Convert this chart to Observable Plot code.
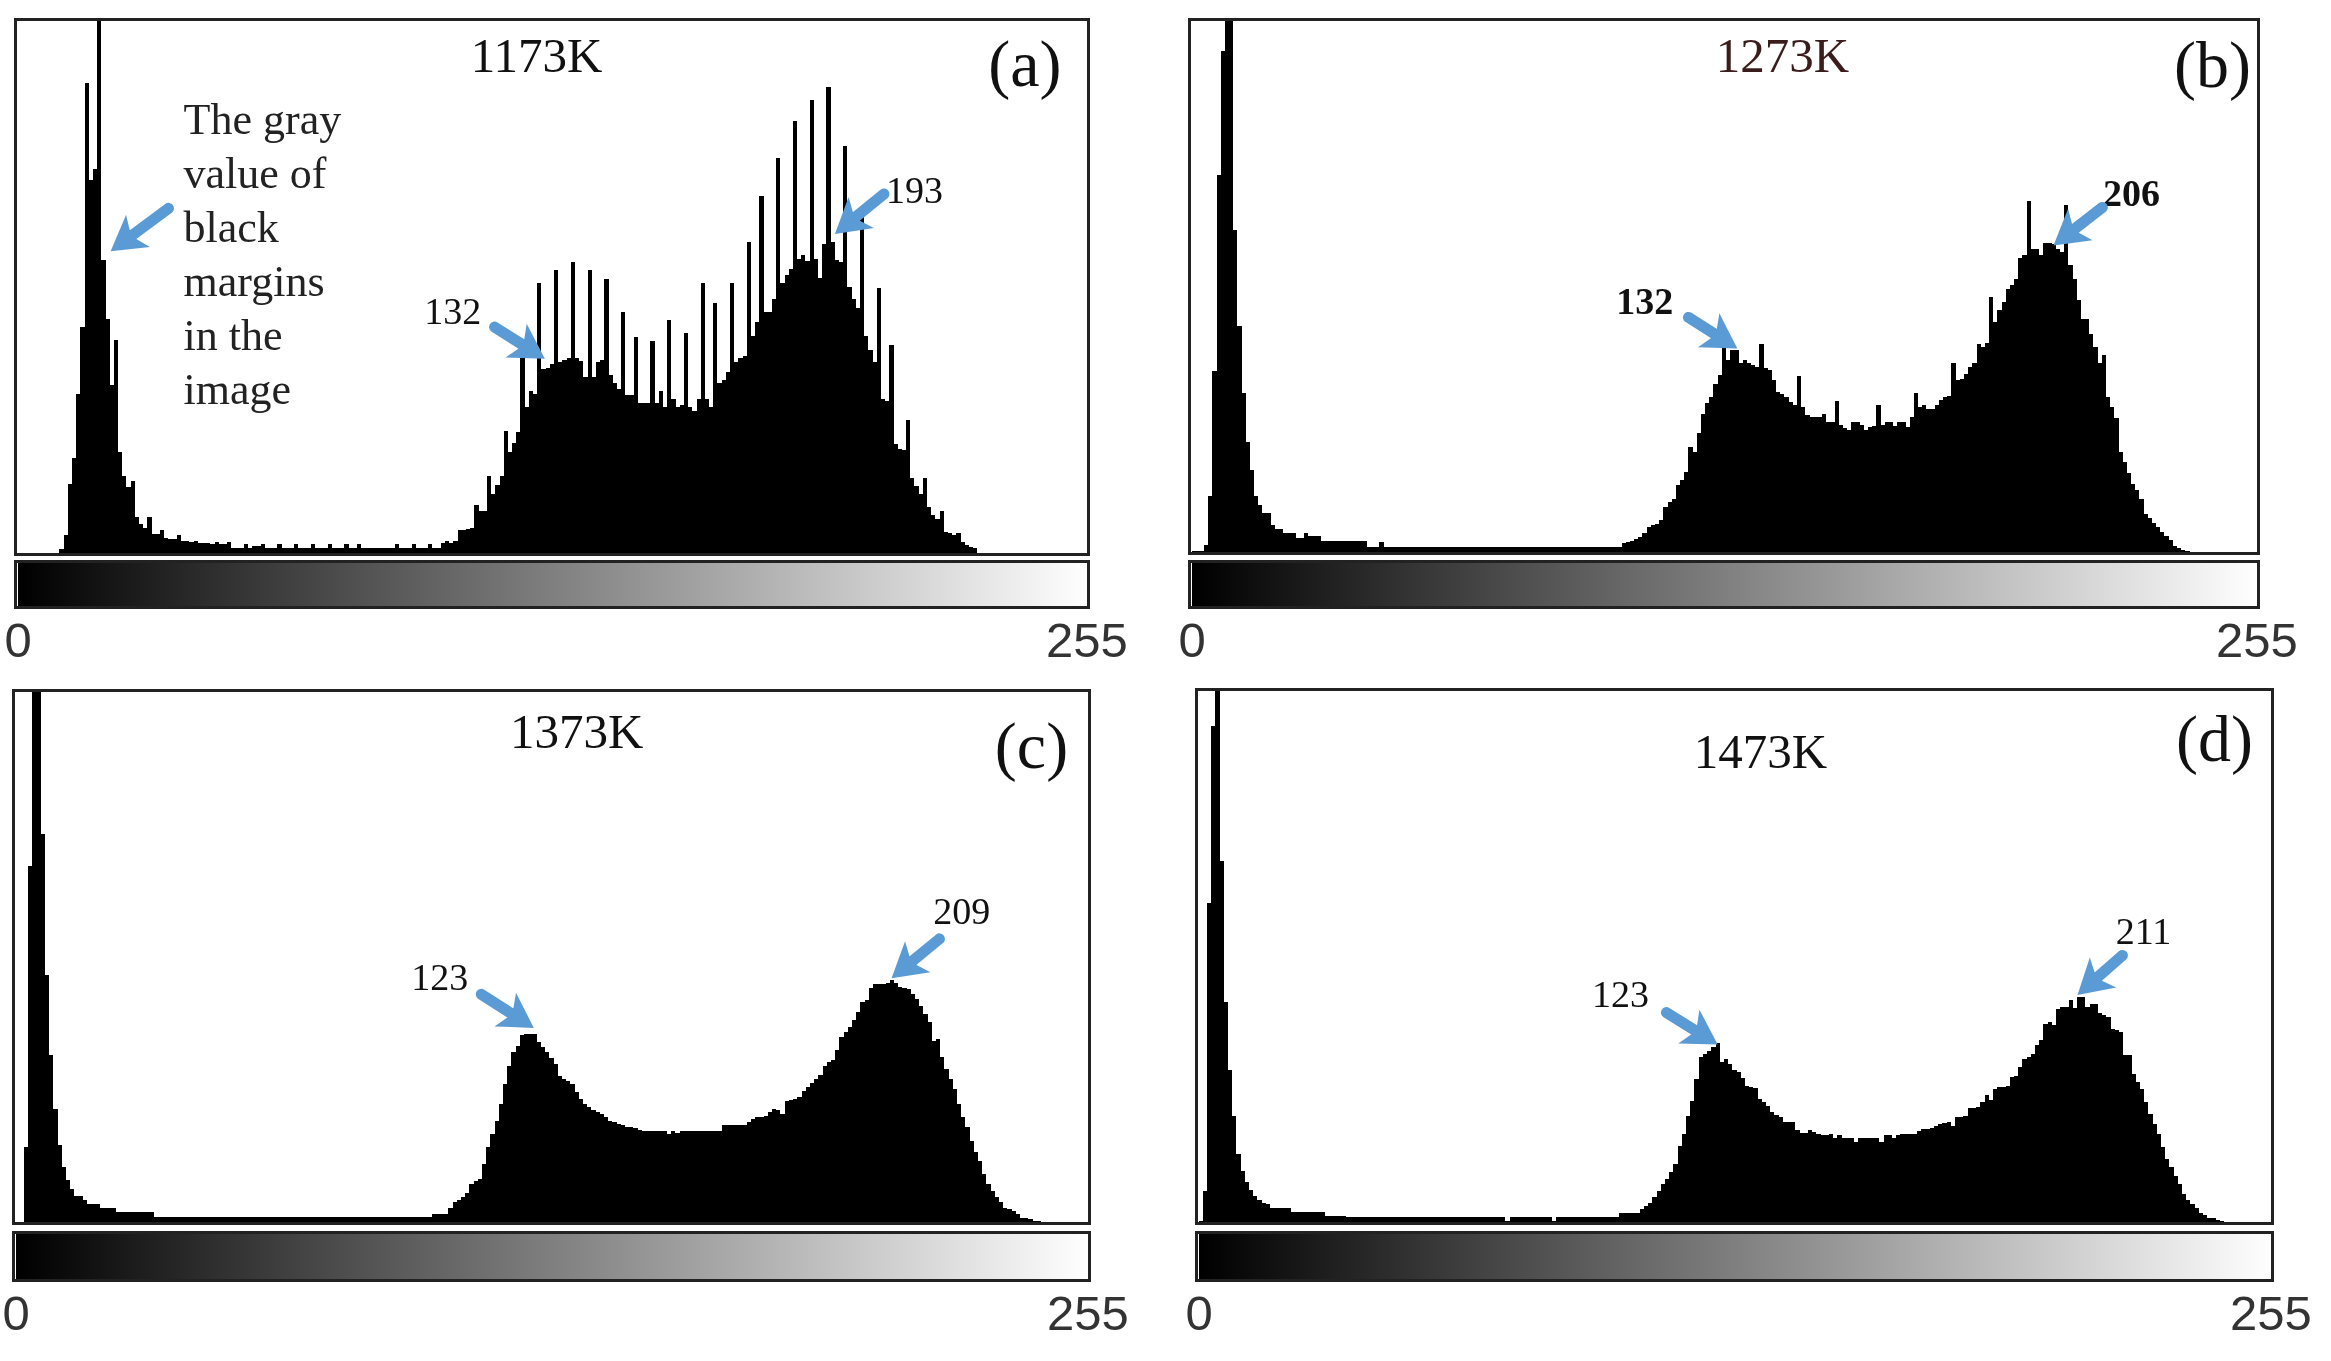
<!DOCTYPE html>
<html>
<head>
<meta charset="utf-8">
<script src="https://cdn.jsdelivr.net/npm/d3@7"></script>
<script src="https://cdn.jsdelivr.net/npm/@observablehq/plot@0.6"></script>
<style>
html,body{margin:0;padding:0;background:#fff}
#page{position:relative;width:2331px;height:1361px;overflow:hidden;background:#fff;filter:blur(.7px)}
#page svg{position:absolute;overflow:visible;background:transparent}
</style>
</head>
<body>
<div id="page"></div>
<script>
// Histogram heights, one value per gray level, percent of the frame height.
const counts1173 = [
0,0,0,0,0,0,0,0,0,0,
1,3.6,13,18,30,42.5,88,70,72,100,
55,44,31.5,40,19,14.5,12.5,13.7,7,5.7,
4.9,7,3.8,3.8,4.4,3,2.8,2.8,3.6,2.4,
2.4,2.2,2.4,2,2.1,2,1.9,2.3,1.9,1.8,
2.3,1.2,1.2,1.2,1.9,1.2,1.5,1.5,1.9,1.2,
1.2,1.2,1.9,1.2,1.2,1.2,1.9,1.2,1.2,1.2,
1.9,1.2,1.2,1.2,1.9,1.2,1.2,1.2,1.9,1.2,
1.2,1.9,1.2,1.2,1.2,1.2,1.2,1.2,1.2,1.2,1.9,
1.2,1.2,1.2,1.9,1.2,1.2,1.2,1.9,1.2,1.2,
2,2.4,2,2.4,4.4,4.4,4.6,4.9,9.1,8,
8,14.5,11.3,12.9,14.5,23,19,20.8,22.8,37.4,
27.5,30.4,29.9,50.7,34.5,34.7,35.6,53,35.9,36.2,
36.7,54.5,36.7,36,33,53,33,35.9,36.3,51.4,
33.4,31.9,30.8,45.2,29.7,29.7,40.6,28.2,28.2,28.2,
39.8,28.2,30.4,27.5,43.7,28.9,27.5,27.8,41.3,27.5,
26.7,28.9,50.7,28.9,27.5,46.9,31.9,32.6,34,50.7,
35.9,36.7,37,58.4,40.7,43.3,66.9,45.2,45.2,47.7,
74,50.7,52.2,53.3,80.9,55.1,55.9,54.7,84.8,55.1,
51.6,58,87.2,58.4,55,54.5,76.3,50,47.7,45.9,
62.9,40.7,38.2,35.9,49.8,28.9,28.6,39,20.5,19.7,
19.5,25,14.2,12.7,11.2,14.2,8.7,7.2,6.5,8.1,
4.1,3.9,3.5,3.9,2.2,1.7,1.4,1.1,0
];
const counts1273 = [
.4,.4,.4,1.5,10.6,34,70.7,94,100,100,
60.4,42.5,30,20.7,15.5,10.6,9,7.5,7.5,5.2,
4.5,4.5,3.8,3.8,3.8,2.9,2.9,3.8,3.1,3.1,
3.1,2.3,2.3,2.3,2.3,2.3,2.3,2.3,2.3,2.3,
2.3,2.3,1.2,1.2,1.2,2.1,1.2,1.2,1.2,1.2,
1.2,1.2,1.2,1.2,1.2,1.2,1.2,1.2,1.2,1.2,
1.2,1.2,1.2,1.2,1.2,1.2,1.2,1.2,1.2,1.2,
1.2,1.2,1.2,1.2,1.2,1.2,1.2,1.2,1.2,1.2,
1.2,1.2,1.2,1.2,1.2,1.2,1.2,1.2,1.2,1.2,
1.2,1.2,1.2,1.2,1.2,1.2,1.2,1.2,1.2,1.2,
1.2,1.2,1.2,1.8,2.1,2.3,2.7,3,3.7,4.9,
5.2,5.5,6.2,8.7,9.6,10.2,12.7,13.7,15.2,19.9,
18.9,22.4,26.1,28,29.2,31.7,33.3,38.3,36.1,38,
38,35.5,36.2,35.6,35.2,34.9,39.2,34.7,34.2,32.4,
30.2,29.7,29.2,28.3,27.7,33.1,27.4,25.8,25.4,25.4,
25.5,26.1,24.6,24.6,28.5,24,23.5,23,24.6,24.6,
24,23,23.6,23.8,27.7,24,24.6,24.6,23.8,24.6,
24.6,23.6,25.5,30,27.3,27.7,27,27,27.7,28.6,
29.2,29.4,35.5,32.4,32.5,33.6,34.9,35.6,39.2,38.6,
39.4,48,43.3,45.5,47,49.5,50.2,51.4,55.2,55.8,
66,57,57,55.8,58,58,57.8,57,56.4,65.1,
53.9,51.4,47.4,43.9,43.9,41.1,38.6,35.5,37.1,29.2,
27.4,25.2,19,17,15,13,11.8,10.2,7.3,6.5,
5.7,4.9,4,3.2,2.4,1.4,1,.6,.3,.2
];
const counts1373 = [
.2,.2,14.2,66.9,100,100,73,46.6,31.6,21.4,
14.6,10.5,8,6.4,5.1,5.1,4.4,3.5,3.5,3.5,
2.9,2.9,2.9,2.9,2,2,2,2,2,2,
2,2,2,1.1,1.1,1.1,1.1,1.1,1.1,1.1,
1.1,1.1,1.1,1.1,1.1,1.1,1.1,1.1,1.1,1.1,
1.1,1.1,1.1,1.1,1.1,1.1,1.1,1.1,1.1,1.1,
1.1,1.1,1.1,1.1,1.1,1.1,1.1,1.1,1.1,1.1,
1.1,1.1,1.1,1.1,1.1,1.1,1.1,1.1,1.1,1.1,
1.1,1.1,1.1,1.1,1.1,1.1,1.1,1.1,1.1,1.1,
1.1,1.1,1.1,1.1,1.1,1.1,1.1,1.1,1.1,1.7,
1.7,1.7,1.7,2.8,3.9,4.3,4.8,5.7,7.3,7.9,
8.2,11,14.2,16.7,19.2,22.3,26.1,29.5,32,33.3,
35.2,35.4,35.4,35.4,33.9,33,32,31,29.9,27.5,
27,26.7,26.1,24.5,23.3,22.3,21.7,21.2,20.8,20.5,
19.8,19.1,18.9,18.5,18.3,18.1,18,17.8,17.4,17.3,
17.3,17.3,17.3,17.3,17.3,16.7,17.3,16.8,17.3,17.3,
17.3,17.3,17.3,17.3,17.3,17.3,17.3,17.3,18.3,18.3,
18.3,18.3,18.3,18.3,18.9,19.5,19.8,19.8,20,20.8,
21.4,21.2,20.5,22.8,23.1,23.3,23.7,24.8,25.6,26.2,
27,27.7,29.5,30.2,30.6,32.4,34.9,35.8,36.7,38,
39.6,41.4,41.9,44,44.8,44.9,44.9,45,45.5,45,
44.3,44.1,43.9,43,42,40.8,39.3,37.7,34.2,34.6,
31.1,28.9,27,25.2,22.3,19.8,18,15.4,13.3,11.7,
9.2,7.3,6,4.8,3.9,2.9,2.6,2.2,1.7,1,
.9,.7,.4,.3
];
const counts1473 = [
.3,5.9,59.9,93,100,67.8,41.4,28.6,20,12.9,
9.8,7.6,6.1,5.1,4.3,3.7,3.5,2.9,2.9,2.9,
2.9,2.9,2,2,2,2,2,2,2,2,
1.4,1.4,1.4,1.4,1.4,1.1,1.1,1.1,1.1,1.1,
1.1,1.1,1.1,1.1,1.1,1.1,1.1,1.1,1.1,1.1,
1.1,1.1,1.1,1.1,1.1,1.1,1.1,1.1,1.1,1.1,
1.1,1.1,1.1,1.1,1.1,1.1,1.1,1.1,1.1,1.1,
1.1,1.1,1.1,.3,1.1,1.1,1.1,1.1,1.1,1.1,
1.1,1.1,1.1,1.1,.3,1.1,1.1,1.1,1.1,1.1,
1.1,1.1,1.1,1.1,1.1,1.1,1.1,1.1,1.1,1.1,
1.9,1.9,1.9,1.9,1.9,2.6,3.2,3.8,4.8,6,
7.3,8.2,9.5,11,14.5,16.7,20.1,22.9,27,31,
31.6,32.3,32.9,33.7,30.1,30.8,29.8,28.7,28.2,27.2,
25.7,25.4,25.3,23.2,22.6,22,20.7,20.3,19.9,19,
19,18.9,17.4,16.8,16.8,17.4,17,16.7,16.5,16.5,
16.7,16,16.5,16,15.9,15.9,15.1,16,16,15.9,
15.9,15.9,15.1,16.5,16.5,15.9,16.5,16.7,16.7,16.7,
16.7,17.3,17.6,17.6,17.8,18.2,18.5,18.7,19,18.2,
19.9,19.9,20.1,21.5,21.6,21.7,22.6,23.9,23,25.1,
25.4,25.4,25.7,27.4,27.6,29.2,30.8,31,31.7,33.3,
34.3,37.3,37.6,37,40,40.5,40.5,41.7,40.2,42.3,
42.3,40.5,41.1,41.1,39.3,39,38.6,36.4,36.1,35.8,
31.4,31.4,27.9,26.4,25.1,22.6,20.4,18.5,16.7,14.2,
12,10.4,8.8,7.3,5.4,4.4,3.5,2.8,1.9,1.5,
1,.9,.5,.3
];

const titles = ["1173K","1273K","1373K","1473K"];
const letters = ["(a)","(b)","(c)","(d)"];
const noteLines = "The gray\nvalue of\nblack\nmargins\nin the\nimage";
const axisTicks = [0,255];

// Annotation anchors in data units: [gray level, percent of frame height]
const titleSpots  = [[123.7,93.1],[141.4,93.1],[133.4,92.1],[133.6,88.3]];
const letterSpots = [[240.2,91.5],[244.4,91.4],[241.6,89.5],[241.6,90.6]];
const peakLabels = [
  [{text:"132",gray:103.7,count:45.3},{text:"193",gray:213.9,count:67.9}],
  [{text:"132",gray:108.4,count:47.2},{text:"206",gray:225,count:67.4}],
  [{text:"123",gray:100.8,count:46},{text:"209",gray:225,count:58.4}],
  [{text:"123",gray:100.3,count:42.9},{text:"211",gray:224.7,count:54.7}]
];
const peakArrows = [
  [{g1:35.9,c1:64.7,g2:22.1,c2:56.7},{g1:113.7,c1:42.5,g2:125.7,c2:36.6},{g1:206.6,c1:67.4,g2:194.9,c2:59.9}],
  [{g1:118.9,c1:44.2,g2:130.6,c2:38.4},{g1:218,c1:64.8,g2:206.3,c2:57.7}],
  [{g1:110.7,c1:43,g2:123.2,c2:36.7},{g1:219.7,c1:53.4,g2:208.3,c2:46}],
  [{g1:111.2,c1:39.5,g2:123.4,c2:33.5},{g1:219.7,c1:50.2,g2:209,c2:42.8}]
];

const series = [counts1173,counts1273,counts1373,counts1473];
const boxes = [
  {L:15,R:1088,T:19,B:554,bT:561,bB:607},
  {L:1189,R:2258,T:19,B:553,bT:561,bB:607},
  {L:13,R:1089,T:690,B:1223,bT:1232,bB:1280},
  {L:1196,R:2272,T:689,B:1223,bT:1232,bB:1280}
];
const titleColors = ["#111","#3a1c1c","#111","#111"];
const labelWeights = ["normal","bold","normal","normal"];

const serif = "Liberation Serif";
const blue = "#5b9bd5";
const xDomain = [-0.6,255.4];
const grayLevels = d3.range(256);
const page = document.getElementById("page");

const arrowHead = {draw(c){
  c.moveTo(0,0); c.lineTo(-20,34); c.lineTo(-6,28); c.lineTo(6,28); c.lineTo(20,34); c.closePath();
}};

series.forEach((vals,i)=>{
  const b = boxes[i], m = 3;
  const w = b.R-b.L, h = b.B-b.T;
  const kx = w/256, ky = h/100;
  const bins = vals.map((count,gray)=>({gray,count}));
  const arrows = peakArrows[i];
  const hist = Plot.plot({
    width:w+2*m, height:h+2*m,
    marginLeft:m, marginRight:m, marginTop:m, marginBottom:m,
    x:{domain:xDomain,axis:null},
    y:{domain:[0,100],axis:null},
    marks:[
      Plot.rectY(bins,{x1:d=>d.gray,x2:d=>d.gray+1,y:"count",fill:"#000",shapeRendering:"crispEdges"}),
      Plot.frame({stroke:"#222",strokeWidth:3}),
      Plot.text([titles[i]],{x:titleSpots[i][0],y:titleSpots[i][1],text:d=>d,fontFamily:serif,fontSize:49,fill:titleColors[i]}),
      Plot.text([letters[i]],{x:letterSpots[i][0],y:letterSpots[i][1],text:d=>d,fontFamily:serif,fontSize:66,fill:"#111"}),
      Plot.text(peakLabels[i],{x:"gray",y:"count",text:"text",fontFamily:serif,fontSize:38,fontWeight:labelWeights[i],fill:"#111"}),
      i===0 ? Plot.text([noteLines],{x:39.5,y:56.6,text:d=>d,textAnchor:"start",lineHeight:1.23,fontFamily:serif,fontSize:44,fill:"#222"}) : null,
      Plot.arrow(arrows,{x1:"g1",y1:"c1",x2:"g2",y2:"c2",stroke:blue,strokeWidth:11,headLength:0,insetEnd:22}),
      Plot.dot(arrows,{x:"g2",y:"c2",fill:blue,stroke:"none",symbol:arrowHead,
        rotate:d=>Math.atan2((d.g2-d.g1)*kx,(d.c2-d.c1)*ky)*180/Math.PI})
    ]
  });
  hist.style.left=(b.L-m)+"px"; hist.style.top=(b.T-m)+"px";
  page.appendChild(hist);

  const ml=40, mr=60, mb=70;
  const bar = Plot.plot({
    width:w+ml+mr, height:(b.bB-b.bT)+m+mb,
    marginLeft:ml, marginRight:mr, marginTop:m, marginBottom:mb,
    x:{domain:xDomain},
    color:{type:"identity"},
    marks:[
      Plot.rect(grayLevels,{x1:g=>g,x2:g=>g+1,fill:g=>`rgb(${g},${g},${g})`,shapeRendering:"crispEdges"}),
      Plot.frame({stroke:"#222",strokeWidth:3}),
      Plot.axisX({ticks:axisTicks,tickSize:0,tickPadding:15,tickFormat:String,label:null,fontSize:49,fontFamily:"Liberation Sans",fill:"#333"})
    ]
  });
  bar.style.left=(b.L-ml)+"px"; bar.style.top=(b.bT-m)+"px";
  page.appendChild(bar);
});
</script>
</body>
</html>
